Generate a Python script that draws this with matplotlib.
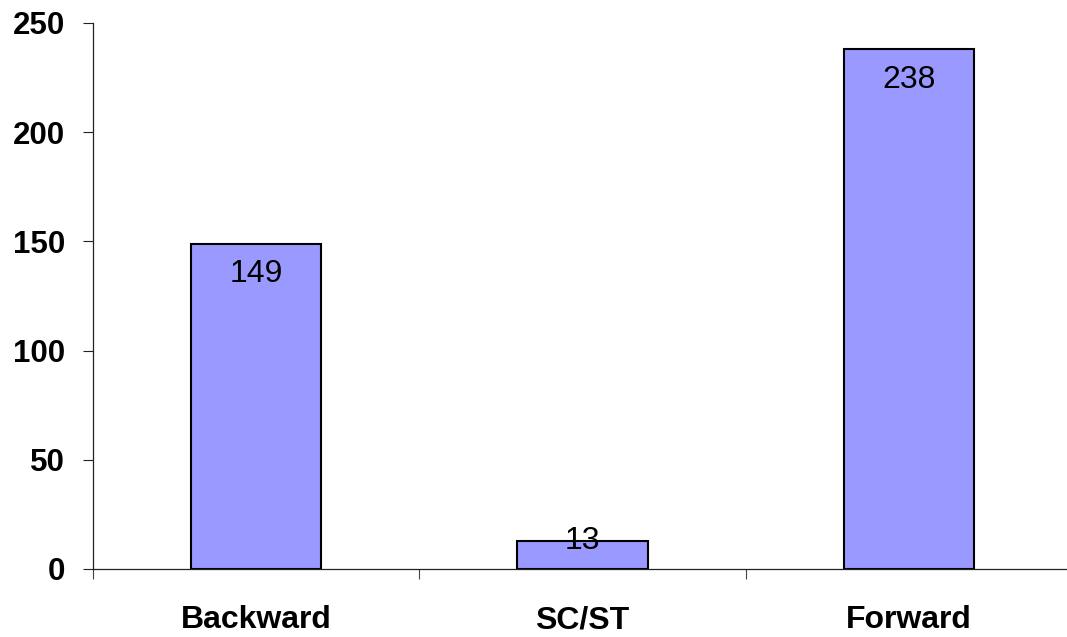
import matplotlib.pyplot as plt
import numpy as np

categories = ['Backward', 'SC/ST', 'Forward']
counts = [149, 13, 238]
y_ticks = [0, 50, 100, 150, 200, 250]

plt.rcParams['font.family'] = ['Liberation Sans', 'DejaVu Sans']

fig = plt.figure(figsize=(10.67, 6.37), dpi=100)
ax = fig.add_axes([93 / 1067, 68 / 637, 979 / 1067, 546 / 637])

x = np.arange(len(categories))
bars = ax.bar(x, counts, width=0.4, color='#9999FF', edgecolor='black', linewidth=1.5)

# value labels sit just inside the bar top; short bars keep them at the top edge
for xi, v in zip(x, counts):
    y = v - 14 if v > 27 else v
    ax.text(xi, y, str(v), ha='center', va='center', fontsize=23, color='black')

ax.set_xlim(-0.5, 2.5)
ax.set_ylim(0, 250)
ax.set_yticks(y_ticks)
ax.set_yticklabels([str(t) for t in y_ticks], fontsize=22.5, fontweight='bold')

ax.set_xticks(x)
ax.set_xticklabels(categories, fontsize=23, fontweight='bold')
ax.tick_params(axis='x', which='major', length=0, pad=26)
ax.set_xticks([-0.5, 0.5, 1.5, 2.5], minor=True)
ax.tick_params(axis='x', which='minor', length=7, width=0.8, color='#444444')
ax.tick_params(axis='y', length=7, width=0.8, color='#222222', pad=13)

for side in ['top', 'right']:
    ax.spines[side].set_visible(False)
for side in ['left', 'bottom']:
    ax.spines[side].set_linewidth(0.9)
    ax.spines[side].set_color('#222222')

fig.savefig('out.png', dpi=100)
